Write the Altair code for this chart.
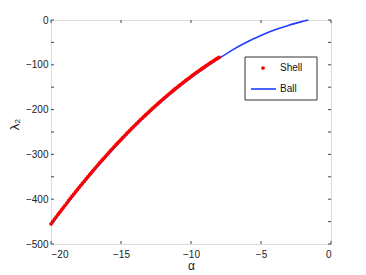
import altair as alt
import pandas as pd

# Ball curve
ball_alpha = [-20, -19, -18, -17, -16, -15, -14, -13, -12, -11, -10, -9, -8, -7, -6, -5, -4, -3, -2, -1.62]
ball_lambda = [-458.0, -416.5, -376.8, -339.2, -303.4, -269.5, -237.6, -207.6, -179.5, -153.2,
               -129.0, -106.7, -86.0, -66.0, -49.0, -34.5, -22.0, -11.5, -3.0, 0.0]

# Shell points (dense dots)
shell_alpha = [-20.0, -19.875, -19.75, -19.625, -19.5, -19.375, -19.25, -19.125,
               -19.0, -18.875, -18.75, -18.625, -18.5, -18.375, -18.25, -18.125,
               -18.0, -17.875, -17.75, -17.625, -17.5, -17.375, -17.25, -17.125,
               -17.0, -16.875, -16.75, -16.625, -16.5, -16.375, -16.25, -16.125,
               -16.0, -15.875, -15.75, -15.625, -15.5, -15.375, -15.25, -15.125,
               -15.0, -14.875, -14.75, -14.625, -14.5, -14.375, -14.25, -14.125,
               -14.0, -13.875, -13.75, -13.625, -13.5, -13.375, -13.25, -13.125,
               -13.0, -12.875, -12.75, -12.625, -12.5, -12.375, -12.25, -12.125,
               -12.0, -11.875, -11.75, -11.625, -11.5, -11.375, -11.25, -11.125,
               -11.0, -10.875, -10.75, -10.625, -10.5, -10.375, -10.25, -10.125,
               -10.0, -9.875, -9.75, -9.625, -9.5, -9.375, -9.25, -9.125,
               -9.0, -8.875, -8.75, -8.625, -8.5, -8.375, -8.25, -8.125, -8.0]
shell_lambda = [-455.0, -449.7, -444.4, -439.2, -434.0, -428.9, -423.7, -418.6,
                -413.5, -408.5, -403.4, -398.4, -393.4, -388.5, -383.6, -378.7,
                -373.8, -369.1, -364.3, -359.6, -354.8, -350.1, -345.4, -340.8,
                -336.2, -331.6, -327.0, -322.5, -318.0, -313.6, -309.2, -304.8,
                -300.4, -296.1, -291.8, -287.5, -283.2, -279.0, -274.8, -270.7,
                -266.5, -262.5, -258.4, -254.4, -250.3, -246.4, -242.4, -238.5,
                -234.6, -230.8, -226.9, -223.1, -219.3, -215.6, -211.9, -208.3,
                -204.6, -201.0, -197.4, -193.9, -190.3, -186.8, -183.3, -179.9,
                -176.5, -173.1, -169.7, -166.4, -163.1, -159.9, -156.6, -153.4,
                -150.2, -147.1, -144.0, -141.0, -137.9, -134.9, -131.9, -129.0,
                -126.0, -123.1, -120.2, -117.4, -114.6, -111.9, -109.1, -106.4,
                -103.7, -101.1, -98.4, -95.8, -93.2, -90.7, -88.1, -85.7, -83.2]

x_ticks = [-20, -15, -10, -5, 0]
y_ticks = [-500, -450, -400, -350, -300, -250, -200, -150, -100, -50, 0]
legend_labels = ["Shell", "Ball"]

W, H = 280, 224
FONT = "Liberation Sans"

ball_df = pd.DataFrame({"alpha": ball_alpha, "lam": ball_lambda})
shell_df = pd.DataFrame({"alpha": shell_alpha, "lam": shell_lambda})
xt_df = pd.DataFrame({"xt": x_ticks})
yt_df = pd.DataFrame({"yt": y_ticks})
one = pd.DataFrame({"a": [0]})

xscale = alt.Scale(domain=[-20, 0], nice=False, zero=False)
yscale = alt.Scale(domain=[-500, 0], nice=False, zero=False)

xaxis = alt.Axis(values=x_ticks, tickSize=0, domain=False, grid=False, labelPadding=5,
                 labelFont=FONT, labelFontSize=10, labelColor="#222",
                 title="α", titleFont=FONT, titleFontSize=12, titleFontWeight="normal",
                 titleColor="#222", titleX=140, titleY=21, titleBaseline="middle")
yaxis = alt.Axis(values=y_ticks, tickSize=0, domain=False, grid=False, labelPadding=3,
                 labelFont=FONT, labelFontSize=10, labelColor="#222",
                 title="λ₂", titleFont=FONT, titleFontSize=13, titleFontWeight="normal",
                 titleColor="#222", titleX=-37, titleY=104, titleAngle=-90,
                 titleBaseline="middle", titleAlign="center")

ball = alt.Chart(ball_df).mark_line(color="#1f3cff", strokeWidth=1.6, interpolate="monotone").encode(
    x=alt.X("alpha:Q", scale=xscale, axis=xaxis),
    y=alt.Y("lam:Q", scale=yscale, axis=yaxis),
)
shell = alt.Chart(shell_df).mark_circle(color="#ff0000", size=14, opacity=1).encode(
    x=alt.X("alpha:Q", scale=xscale),
    y=alt.Y("lam:Q", scale=yscale),
)

tick_color = "#444"
xt_bot = alt.Chart(xt_df).mark_rule(color=tick_color, strokeWidth=1).encode(
    x=alt.X("xt:Q", scale=xscale), y=alt.value(H), y2=alt.value(H - 3))
xt_top = alt.Chart(xt_df).mark_rule(color=tick_color, strokeWidth=1).encode(
    x=alt.X("xt:Q", scale=xscale), y=alt.value(0), y2=alt.value(3))
yt_left = alt.Chart(yt_df).mark_rule(color=tick_color, strokeWidth=1).encode(
    y=alt.Y("yt:Q", scale=yscale), x=alt.value(0), x2=alt.value(3))
yt_right = alt.Chart(yt_df).mark_rule(color=tick_color, strokeWidth=1).encode(
    y=alt.Y("yt:Q", scale=yscale), x=alt.value(W), x2=alt.value(W - 3))

# legend box
leg_box = alt.Chart(one).mark_rect(fill="white", stroke="#333", strokeWidth=1).encode(
    x=alt.value(194), x2=alt.value(266), y=alt.value(37), y2=alt.value(80))
leg_dot = alt.Chart(one).mark_circle(color="#ff0000", size=14, opacity=1).encode(
    x=alt.value(212), y=alt.value(48))
leg_line = alt.Chart(one).mark_rule(color="#1f3cff", strokeWidth=1.6).encode(
    x=alt.value(200), x2=alt.value(225), y=alt.value(69))
leg_t1 = alt.Chart(one).mark_text(text=legend_labels[0], align="left", baseline="middle",
                                  font=FONT, fontSize=10, color="#111").encode(
    x=alt.value(229), y=alt.value(48))
leg_t2 = alt.Chart(one).mark_text(text=legend_labels[1], align="left", baseline="middle",
                                  font=FONT, fontSize=10, color="#111").encode(
    x=alt.value(229), y=alt.value(69))

chart = alt.layer(
    ball, shell, xt_bot, xt_top, yt_left, yt_right,
    leg_box, leg_dot, leg_line, leg_t1, leg_t2,
).properties(
    width=W, height=H,
    autosize=alt.AutoSizeParams(type="none"),
    padding={"left": 43, "top": 12, "right": 12, "bottom": 36},
).configure_view(
    stroke="#222", strokeWidth=1
).configure(background="white")

chart.save("out.html", embed_options={"renderer": "svg", "actions": False})
